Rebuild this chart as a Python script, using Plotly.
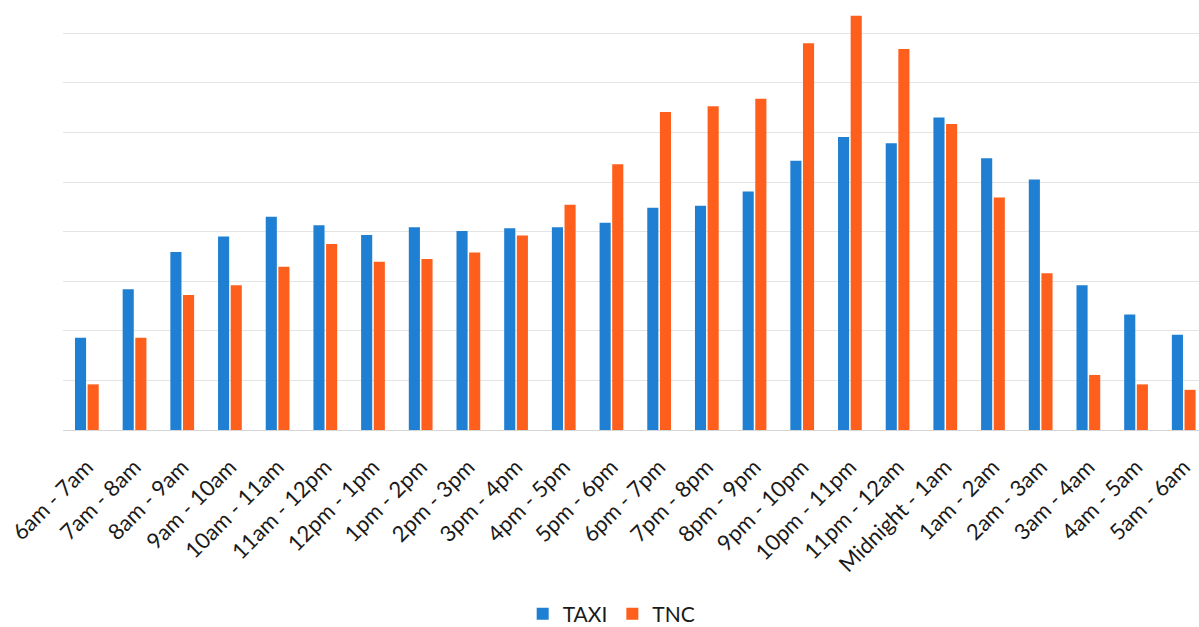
import plotly.graph_objects as go

categories = ["6am - 7am", "7am - 8am", "8am - 9am", "9am - 10am", "10am - 11am",
              "11am - 12pm", "12pm - 1pm", "1pm - 2pm", "2pm - 3pm", "3pm - 4pm",
              "4pm - 5pm", "5pm - 6pm", "6pm - 7pm", "7pm - 8pm", "8pm - 9pm",
              "9pm - 10pm", "10pm - 11pm", "11pm - 12am", "Midnight - 1am",
              "1am - 2am", "2am - 3am", "3am - 4am", "4am - 5am", "5am - 6am"]

taxi = [1.86, 2.84, 3.59, 3.90, 4.30, 4.13, 3.93, 4.09, 4.01, 4.07, 4.09, 4.18,
        4.48, 4.52, 4.81, 5.43, 5.91, 5.78, 6.30, 5.48, 5.05, 2.92, 2.33, 1.92]
tnc = [0.92, 1.86, 2.72, 2.92, 3.29, 3.75, 3.39, 3.45, 3.58, 3.92, 4.54, 5.36,
       6.41, 6.53, 6.68, 7.80, 8.35, 7.68, 6.17, 4.69, 3.16, 1.11, 0.92, 0.81]

fig = go.Figure()
fig.add_trace(go.Bar(x=categories, y=taxi, name="TAXI", marker_color="#1F80D3",
                     marker_line_width=0))
fig.add_trace(go.Bar(x=categories, y=tnc, name="TNC", marker_color="#FF5F1C",
                     marker_line_width=0))

fig.update_layout(
    width=1199, height=627,
    margin=dict(l=63, r=0, t=0, b=197, autoexpand=False),
    paper_bgcolor="white", plot_bgcolor="white",
    barmode="group", bargap=0.47, bargroupgap=0.12,
    font=dict(family="Lato, Carlito, sans-serif", color="#1a1a1a"),
    showlegend=True,
    legend=dict(orientation="h", x=0.483, xanchor="center", y=-0.428, yanchor="middle",
                font=dict(size=21), itemwidth=30, traceorder="normal"),
)
fig.update_xaxes(range=[-0.5, 23.32], tickangle=-45, tickfont=dict(size=22),
                 showgrid=False, showline=False, zeroline=False, ticks="",
                 ticklabelstandoff=19, automargin=False)
fig.update_yaxes(range=[0, 8.67], dtick=1, showticklabels=False, showgrid=True,
                 gridcolor="#E4E4E4", gridwidth=1, zeroline=True,
                 zerolinecolor="#D6D6D6", zerolinewidth=1, showline=False,
                 automargin=False)

fig.write_html("out.html")
